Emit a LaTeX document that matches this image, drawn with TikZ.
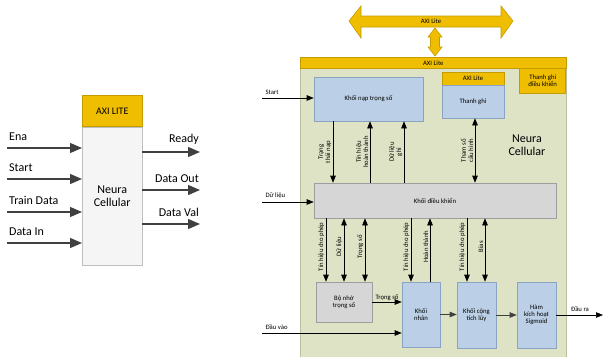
\documentclass[tikz,border=0pt]{standalone}
\usepackage{fontspec}
\setmainfont{Carlito}
\usetikzlibrary{arrows.meta}
\definecolor{axigold}{RGB}{240,190,0}
\definecolor{axiline}{RGB}{196,156,0}
\definecolor{cellbg}{RGB}{222,227,198}
\definecolor{cellline}{RGB}{186,192,156}
\definecolor{blkblue}{RGB}{187,207,230}
\definecolor{blueline}{RGB}{138,163,194}
\definecolor{blkgrey}{RGB}{214,214,214}
\definecolor{greyline}{RGB}{158,158,158}
\definecolor{wire}{RGB}{64,64,64}

\begin{document}
\begin{tikzpicture}[x=1pt, y=-1pt, >={Triangle[length=7pt,width=5.5pt]},
  axi/.style={fill=axigold, draw=axiline, line width=0.6pt},
  blue/.style={fill=blkblue, draw=blueline, line width=0.6pt, align=center, inner sep=0pt},
  grey/.style={fill=blkgrey, draw=greyline, line width=0.6pt, align=center, inner sep=0pt},
  tiny/.style={font=\fontsize{6.7}{7.2}\selectfont},
  sig/.style={draw=black, line width=0.6pt},
  lbl/.style={tiny, align=center, rotate=90, anchor=south, inner sep=1.5pt},
  bigwire/.style={draw=wire, line width=1.2pt, -{Triangle[length=12pt,width=10pt]}},
  big/.style={font=\fontsize{12}{13.5}\selectfont}]
\useasboundingbox (0,0) rectangle (604,356);

% ---- left: block symbol of the cell
\node[draw=black!25, fill=black!4, minimum width=60, minimum height=138,
  anchor=north west, inner sep=0pt] (cell) at (82,127) {};
\node[axi, minimum width=60, minimum height=31, anchor=south west,
  font=\fontsize{10}{12}\selectfont] (cellaxi) at (82,127) {AXI LITE};
\node[big, align=center] (cellname) at (cell.center) {Neura\\Cellular};
\foreach \t/\y [count=\i] in {Ena/148, Start/179, Train Data/212, Data In/243}{
  \coordinate (in\i) at (7,\y);
  \draw[bigwire] (in\i) -- (in\i -| cell.west);
  \node[big, anchor=south west, inner sep=1pt] (inl\i) at (8,\y-6) {\t};
}
\foreach \t/\y [count=\i] in {Ready/152, Data Out/190, Data Val/224}{
  \coordinate (out\i) at (200,\y);
  \draw[bigwire] (out\i -| cell.east) -- (out\i);
  \node[big, anchor=south east, inner sep=1pt] (outl\i) at (200,\y-6) {\t};
}

% ---- AXI bus double arrows
\filldraw[axi] (349,21) -- (361,6) -- (361,16) -- (501,16) -- (501,6) -- (513,21)
  -- (501,38) -- (501,27) -- (361,27) -- (361,38) -- cycle;
\node[tiny] (axibus) at (431,21.5) {AXI Lite};
\filldraw[axi] (435,28) -- (442,37) -- (439.5,37) -- (439.5,47) -- (442,47) -- (435,56)
  -- (428,47) -- (430.5,47) -- (430.5,37) -- (428,37) -- cycle;

% ---- right: inside of the cell
\filldraw[fill=cellbg, draw=cellline, line width=0.8pt] (300,57) rectangle (566,362);
\node[axi, minimum width=266, minimum height=11, anchor=north west, inner sep=0pt, tiny]
  (bar) at (300,57) {AXI Lite};
\node[axi, minimum width=46, minimum height=25, anchor=north east, inner sep=0pt,
  tiny, align=center] (ctrlreg) at (566,68) {Thanh ghi\\điều khiển};
\node[big, align=center] (name) at (527,145) {Neura\\Cellular};

\node[blue, tiny, minimum width=109, minimum height=44] (load) at (368.5,99) {Khối nạp trọng số};
\node[axi, tiny, minimum width=62, minimum height=13, inner sep=0pt] (regaxi) at (473,78.5) {AXI Lite};
\node[blue, tiny, minimum width=62, minimum height=33] (reg) at (473,101.5) {Thanh ghi};
\node[grey, tiny, minimum width=242, minimum height=35] (ctrl) at (435,200.5) {Khối điều khiển};
\node[grey, tiny, minimum width=56, minimum height=40] (mem) at (344,302) {Bộ nhớ\\trọng số};
\node[blue, tiny, minimum width=38, minimum height=65] (mult) at (421,314.5) {Khối\\nhân};
\node[blue, tiny, minimum width=39, minimum height=66] (acc) at (476.5,315) {Khối cộng\\tích lũy};
\node[blue, tiny, minimum width=39, minimum height=66] (act) at (536.5,315) {Hàm\\kích hoạt\\Sigmoid};

% inputs from outside
\coordinate (start) at (262,98);
\coordinate (data) at (262,202);
\coordinate (xin) at (262,333);
\coordinate (yout) at (603,315);
\draw[sig, ->] (start) -- (start -| load.west);
\node[tiny, anchor=south west] (startl) at (start) {Start};
\draw[sig, ->] (data) -- (data -| ctrl.west);
\node[tiny, anchor=south west] (datal) at (data) {Dữ liệu};
\draw[sig, ->] (xin) -- (xin -| mult.west);
\node[tiny, anchor=south west] (xinl) at (xin) {Đầu vào};
\draw[sig, ->] (act.east) -- (yout);
\node[tiny, anchor=south] (youtl) at (580,315) {Đầu ra};

% loader / register <-> control
\draw[sig, ->] (333,0 |- load.south) -- node[lbl] {Trạng\\thái nạp} (333,0 |- ctrl.north);
\draw[sig, <-] (370,0 |- load.south) -- node[lbl] {Tín hiệu\\hoàn thành} (370,0 |- ctrl.north);
\draw[sig, <-] (404,0 |- load.south) -- node[lbl] {Dữ liệu\\ghi} (404,0 |- ctrl.north);
\draw[sig, <->] (475,0 |- reg.south) -- node[lbl] {Tham số\\cấu hình} (475,0 |- ctrl.north);

% control -> datapath
\foreach \x/\tip/\lab/\dest in {326/->/{Tín hiệu cho phép}/mem, 344/<->/{Dữ liệu}/mem,
  365/<->/{Trọng số}/mem, 411/->/{Tín hiệu cho phép}/mult, 430/<-/{Hoàn thành}/mult,
  467/->/{Tín hiệu cho phép}/acc, 485/<->/{Bias}/acc}{
  \draw[sig, \tip] (\x,0 |- ctrl.south) -- node[lbl, pos=0.45] {\lab} (\x,0 |- \dest.north);
}

% datapath
\draw[sig, ->] (mem.east) -- node[tiny, above, inner sep=1pt] {Trọng số} (mem.east -| mult.west);
\draw[sig, draw=wire, ->] (mult.east) -- (mult.east -| acc.west);
\draw[sig, draw=wire, ->] (acc.east) -- (acc.east -| act.west);
\end{tikzpicture}
\end{document}
